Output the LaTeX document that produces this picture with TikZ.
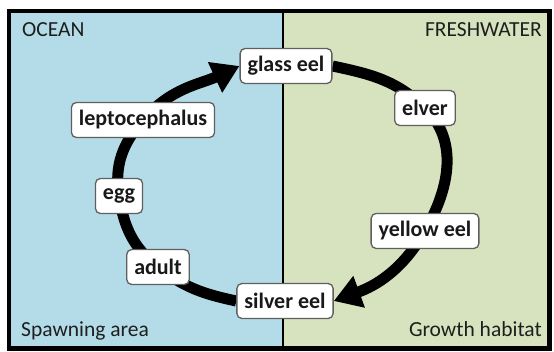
\documentclass[tikz,border=0pt]{standalone}
\usepackage{fontspec}
\setmainfont{Carlito}
\usetikzlibrary{arrows.meta}
\definecolor{oceanblue}{RGB}{180,220,232}
\definecolor{freshgreen}{RGB}{215,227,190}
\definecolor{boxgray}{RGB}{95,95,95}
\definecolor{labelgray}{RGB}{30,30,30}
\pgfdeclarelayer{bg}
\pgfdeclarelayer{ring}
\pgfsetlayers{bg,ring,main}

\begin{document}
\begin{tikzpicture}[x=1pt, y=1pt,
    stage/.style={draw=boxgray, line width=1.3pt, fill=white, rounded corners=5pt,
        inner xsep=7.5pt, inner ysep=0pt, minimum height=35pt,
        font=\fontsize{22}{24}\selectfont\bfseries, text=black!90},
    region/.style={inner sep=0pt, font=\fontsize{21.5}{24}\selectfont, text=labelgray},
    cycle/.style={line width=11pt, -{Triangle[length=27pt, width=32pt]}}]
    \useasboundingbox (0,0) rectangle (554,351);
    \begin{pgfonlayer}{bg}
        \fill[oceanblue] (9,2.5) rectangle (283,340);
        \fill[freshgreen] (283,2.5) rectangle (549.5,340);
        \draw[line width=1.5pt] (283,2.5) -- (283,340);
        \draw[line width=4.5pt] (9,2.5) rectangle (549.5,340);
    \end{pgfonlayer}

    \node[region, anchor=base west] (ocean) at (22,314) {OCEAN};
    \node[region, anchor=base east] (fresh) at (542,314) {FRESHWATER};
    \node[region, anchor=base west] (spawn) at (21,15) {Spawning area};
    \node[region, anchor=base east] (growth) at (542,15) {Growth habitat};

    \node[stage] (glass) at (286,285) {glass eel};
    \node[stage] (elver) at (425,243) {elver};
    \node[stage] (yellow) at (425,120) {yellow eel};
    \node[stage] (silver) at (285,50) {silver eel};
    \node[stage] (adult) at (158,84) {adult};
    \node[stage] (egg) at (119,155) {egg};
    \node[stage] (lepto) at (143,231) {leptocephalus};

    \begin{pgfonlayer}{ring}
        \draw[cycle] (silver.west) to[out=168, in=-38] (adult.center)
            to[out=142, in=-81] (egg.center) to[out=99, in=-131] (lepto.center)
            to[out=49, in=205] (glass.west);
        \draw[cycle] (glass.east) to[out=-12, in=136] (elver.center)
            to[out=-44, in=60] (yellow.center) to[out=-120, in=20] (silver.east);
    \end{pgfonlayer}
\end{tikzpicture}
\end{document}
